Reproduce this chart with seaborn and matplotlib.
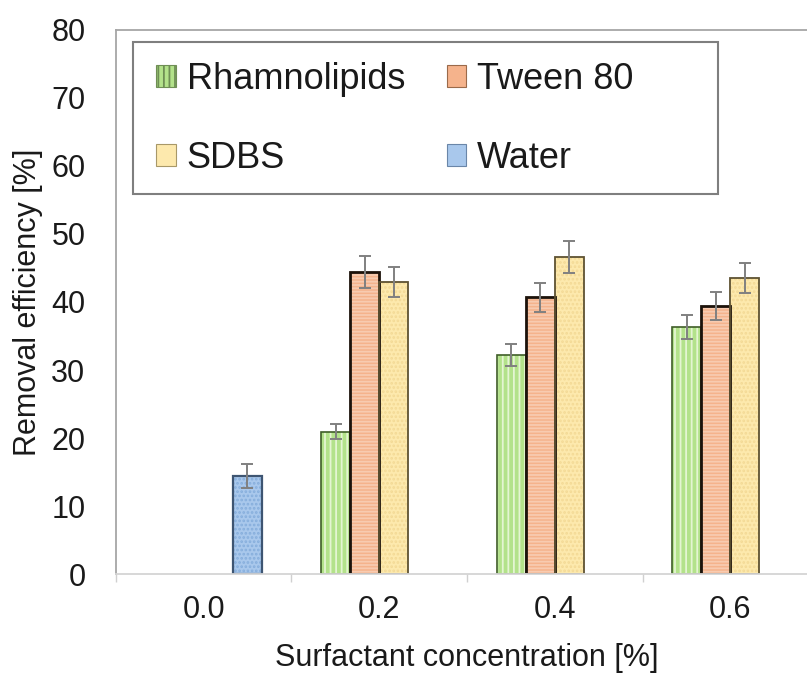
import numpy as np
import pandas as pd
import matplotlib
matplotlib.use("Agg")
import matplotlib.pyplot as plt
from matplotlib.patches import Rectangle, Patch
from matplotlib.container import BarContainer
import seaborn as sns

# Removal efficiency (%) per surfactant at each concentration, with error
concentrations = ["0.0", "0.2", "0.4", "0.6"]
surfactants = ["Rhamnolipids", "Tween 80", "SDBS", "Water"]
rhamnolipids = [np.nan, 20.9, 32.2, 36.3]
rhamnolipids_err = [np.nan, 1.1, 1.6, 1.8]
tween80 = [np.nan, 44.4, 40.7, 39.4]
tween80_err = [np.nan, 2.3, 2.1, 2.0]
sdbs = [np.nan, 42.9, 46.6, 43.5]
sdbs_err = [np.nan, 2.2, 2.4, 2.2]
water = [14.4, np.nan, np.nan, np.nan]
water_err = [1.8, np.nan, np.nan, np.nan]

series = {
    "Rhamnolipids": (rhamnolipids, rhamnolipids_err),
    "Tween 80": (tween80, tween80_err),
    "SDBS": (sdbs, sdbs_err),
    "Water": (water, water_err),
}
rows = []
for name, (vals, errs) in series.items():
    for conc, v, e in zip(concentrations, vals, errs):
        if not np.isnan(v):
            rows.append({"concentration": conc, "surfactant": name,
                         "efficiency": v, "err": e})
df = pd.DataFrame(rows)

# Bar styling: fill, hatch pattern, hatch colour, outline colour, outline width
face = {"Rhamnolipids": "#b3e28a", "Tween 80": "#f5b38c",
        "SDBS": "#fde9ad", "Water": "#a9c8ec"}
hatch = {"Rhamnolipids": "|||", "Tween 80": "-----",
         "SDBS": "....", "Water": "...."}
hatch_col = {"Rhamnolipids": "#e4f5d2", "Tween 80": "#f8cbb0",
             "SDBS": "#f3d995", "Water": "#86aedc"}
edge_col = {"Rhamnolipids": "#3f5e28", "Tween 80": "#1c120a",
            "SDBS": "#5e5232", "Water": "#3e5572"}
edge_lw = {"Rhamnolipids": 1.2, "Tween 80": 2.0, "SDBS": 1.3, "Water": 1.6}
legend_edge = {"Rhamnolipids": "#6f8f55", "Tween 80": "#9a6a4a",
               "SDBS": "#a89868", "Water": "#6a86a8"}

sns.set_theme(style="white")
plt.rcParams["font.family"] = ["Liberation Sans", "DejaVu Sans"]
plt.rcParams["hatch.linewidth"] = 1.3
text_col = "#1a1a1a"

fig = plt.figure(figsize=(8.07, 6.75), dpi=100)
ax = fig.add_axes([0.1437, 0.1496, 0.870, 0.806])

sns.barplot(data=df, x="concentration", y="efficiency", hue="surfactant",
            order=concentrations, hue_order=surfactants, palette=face,
            width=0.66, errorbar=None, legend=False, saturation=1, ax=ax)

bar_patches = [p for c in ax.containers if isinstance(c, BarContainer)
               for p in c]

# Restyle each bar and attach its error bar
for patch in bar_patches:
    h = patch.get_height()
    if not np.isfinite(h) or h == 0:
        continue
    cx = patch.get_x() + patch.get_width() / 2
    cat = concentrations[int(round(cx))]
    sub = df[(df["concentration"] == cat) & np.isclose(df["efficiency"], h)]
    name, err = sub.iloc[0]["surfactant"], sub.iloc[0]["err"]
    patch.set_hatch(hatch[name])
    patch.set_edgecolor(hatch_col[name])
    patch.set_linewidth(0)
    ax.add_patch(Rectangle((patch.get_x(), patch.get_y()),
                           patch.get_width(), h, fill=False,
                           edgecolor=edge_col[name], lw=edge_lw[name],
                           zorder=patch.get_zorder() + 0.1))
    ax.errorbar(cx, h, yerr=err, color="#808080", lw=1.4,
                capsize=4, capthick=1.4, zorder=5)

ax.set_ylim(0, 80)
ax.set_yticks(np.arange(0, 81, 10))
ax.set_xlim(-0.5, 3.5)
ax.set_xticks(np.arange(-0.5, 3.6, 1.0), minor=True)
ax.tick_params(axis="x", which="major", length=0, pad=15, labelsize=22,
               labelcolor=text_col)
ax.tick_params(axis="x", which="minor", length=6, width=1, color="#d0d0d0",
               direction="out", bottom=True)
ax.tick_params(axis="y", length=0, pad=22, labelsize=22, labelcolor=text_col)

ax.set_xlabel("Surfactant concentration [%]", fontsize=22, color=text_col,
              labelpad=13)
ax.set_ylabel("Removal efficiency [%]", fontsize=22, color=text_col,
              labelpad=6)

for side in ["left", "top"]:
    ax.spines[side].set_visible(True)
    ax.spines[side].set_color("#a6a6a6")
    ax.spines[side].set_linewidth(1.3)
ax.spines["bottom"].set_color("#d4d4d4")
ax.spines["bottom"].set_linewidth(1.3)
ax.spines["right"].set_visible(False)

# Legend: two columns inside a rectangular frame
handles = [Patch(facecolor=face[n], edgecolor=legend_edge[n],
                 hatch="|||" if n == "Rhamnolipids" else None,
                 lw=0.8, label=n)
           for n in ["Rhamnolipids", "SDBS", "Tween 80", "Water"]]
fig.legend(handles=handles, ncol=2, loc="upper left",
           bbox_to_anchor=(156 / 807, 1 - 62 / 675), frameon=False,
           fontsize=26, handlelength=0.55, handleheight=0.55,
           handletextpad=0.3, columnspacing=1.15, labelspacing=1.22,
           borderpad=0, borderaxespad=0, labelcolor=text_col)
fig.add_artist(Rectangle((133 / 807, 1 - 194 / 675), (718 - 133) / 807,
                         (194 - 42) / 675, transform=fig.transFigure,
                         fill=False, edgecolor="#7f7f7f", lw=1.5))

fig.savefig("out.png", dpi=100)
